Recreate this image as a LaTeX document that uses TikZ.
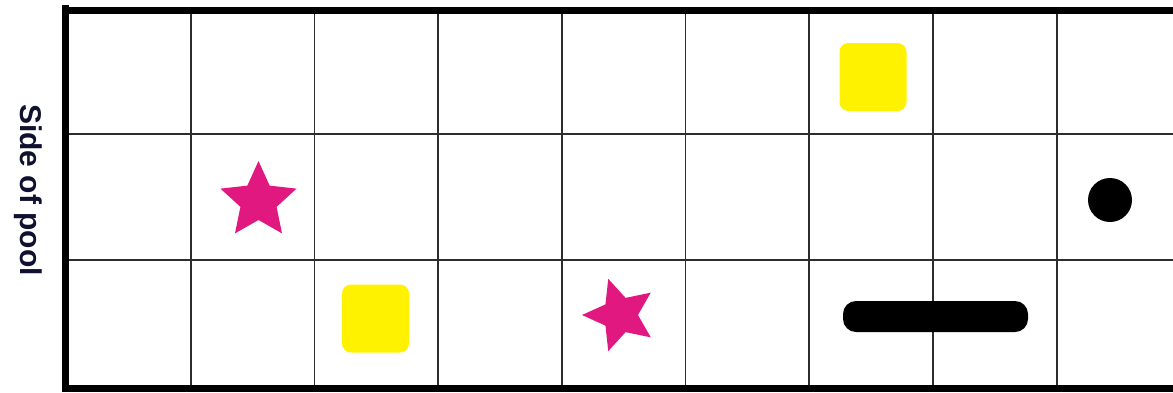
\documentclass[tikz,border=0pt]{standalone}
\usepackage{fontspec}
\setmainfont{Liberation Sans}
\usetikzlibrary{calc}
\definecolor{gridline}{RGB}{45,45,45}
\definecolor{padyellow}{RGB}{255,242,0}
\definecolor{starpink}{RGB}{224,24,128}
\definecolor{labelnavy}{RGB}{16,16,48}
\tikzset{
  border/.style={line width=7pt, black},
  gridln/.style={line width=1.8pt, gridline},
  pad/.style={fill=padyellow, draw=none, rounded corners=9pt, minimum width=67pt, minimum height=68pt, inner sep=0pt},
  disc/.style={circle, fill=black, draw=none, minimum size=44pt, inner sep=0pt},
  bar/.style={fill=black, draw=none, rounded corners=13pt, minimum width=185pt, minimum height=31pt, inner sep=0pt},
  starfill/.style={fill=starpink, draw=none},
}
\begin{document}
\begin{tikzpicture}[x=1pt,y=-1pt]
\useasboundingbox (0,0) rectangle (1173,392);
\clip (0,0) rectangle (1173,392);
\fill[white] (0,0) rectangle (1173,392);
% grid lines
\foreach \gx in {190.7,314.4,438.1,561.8,685.5,809.2,932.9,1056.7}
  \draw[gridln] (\gx,12) -- (\gx,392);
\foreach \gy in {134.3,260}
  \draw[gridln] (66,\gy) -- (1173,\gy);
% thick borders
\draw[border] (65.5,5) -- (65.5,392);
\draw[border] (62,10.5) -- (1173,10.5);
\draw[border] (62,388.5) -- (1173,388.5);
% label
\node[rotate=-90, anchor=base, text=labelnavy, font=\fontsize{30}{36}\selectfont\bfseries] (side) at (20,190) {Side of pool};
% yellow pads
\node[pad] (padA) at (873,77) {};
\node[pad] (padB) at (375.5,318.5) {};
% black disc and bar
\node[disc] (ball) at (1110,200) {};
\node[bar] (noodle) at (935.5,316.5) {};
% stars
\coordinate (starA) at (258.5,201);
\coordinate (starB) at (620,315);
\fill[starfill] ($(starA)+(-90:40)$)
  \foreach \k in {1,...,5} { -- ($(starA)+({-90+72*\k-36}:19)$) -- ($(starA)+({-90+72*\k}:40)$) } -- cycle;
\fill[starfill] ($(starB)+(180:38)$)
  \foreach \k in {1,...,5} { -- ($(starB)+({180+72*\k-36}:18)$) -- ($(starB)+({180+72*\k}:38)$) } -- cycle;
\end{tikzpicture}
\end{document}
